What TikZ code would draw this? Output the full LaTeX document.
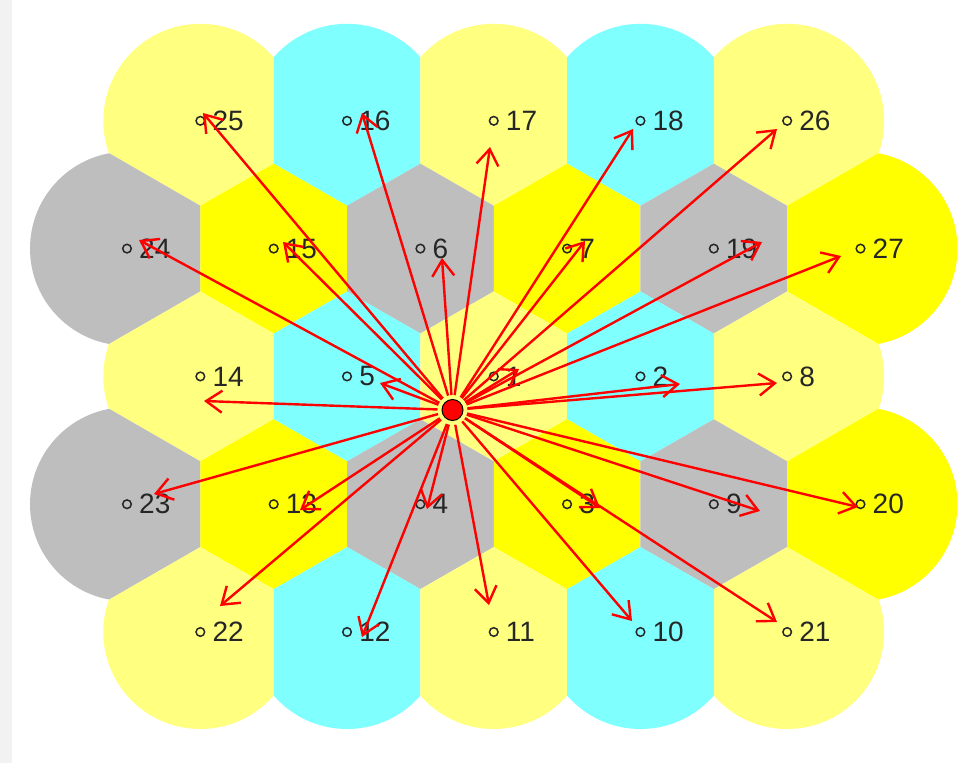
\documentclass[tikz,border=0pt]{standalone}
\usepackage{fontspec}
\setmainfont{Liberation Sans}
\usetikzlibrary{arrows.meta,positioning}

\definecolor{cellyel}{RGB}{255,255,128}
\definecolor{cellcyan}{RGB}{128,255,255}
\definecolor{cellgray}{RGB}{190,190,190}
\definecolor{cellgold}{RGB}{255,255,0}

\tikzset{
  site/.style={draw=black!85, line width=1.5pt},
  num/.style={inner sep=0pt, text=black!85, font=\fontsize{28}{30}\selectfont},
  ray/.style={red, line width=2.4pt, -{Straight Barb[length=16pt,width=22pt]}, shorten <=4pt},
  dot/.style={circle, fill=red, draw=black, line width=1pt, minimum size=21pt, inner sep=0pt}
}

% lattice in pixels
\def\xo{127}\def\yo{120.8}\def\hx{73.35}\def\ry{127.8}
\def\ha{42.85}\def\hb{84.95}\def\rad{97}

% one cell: column, row, colour
\newcommand{\hexcell}[3]{%
  \pgfmathsetmacro{\cx}{\xo+\hx*#1}
  \pgfmathsetmacro{\cy}{\yo+\ry*#2}
  \foreach \k/\vx/\vy in {0/\hx/\ha,1/0/\hb,2/-\hx/\ha,3/-\hx/-\ha,4/0/-\hb,5/\hx/-\ha}{
    \pgfmathsetmacro{\ea}{onmap(#1+round(2*cos(60*\k)),#2+round(1.1547*sin(60*\k)))}
    \pgfmathsetmacro{\eb}{onmap(#1+round(2*cos(60*\k+60)),#2+round(1.1547*sin(60*\k+60)))}
    \pgfmathsetmacro{\dirr}{\ea>0.5 ? 60*\k+90 : (\eb>0.5 ? 60*\k-30 : 60*\k+30)}
    \pgfmathsetmacro{\len}{(1-\ea*\eb)*150}
    \coordinate (v\k) at ({\cx+\vx+\len*cos(\dirr)},{\cy+\vy+\len*sin(\dirr)});
  }
  \begin{scope}
    \clip (\cx,\cy) circle (\rad pt);
    \fill[#3] (v0) -- (v1) -- (v2) -- (v3) -- (v4) -- (v5) -- cycle;
  \end{scope}
}

\begin{document}
\begin{tikzpicture}[x=1pt, y=-1pt,
  declare function={onmap(\i,\j)=(\i>-0.5)*(\i<10.5)*(\j>-0.5)*(\j<4.5);}]
  \useasboundingbox (0,0) rectangle (961,763);
  \fill[black!5] (0,0) rectangle (12,763);

  % cells
  \foreach \col/\row/\fc/\n in {1/0/cellyel/25, 3/0/cellcyan/16, 5/0/cellyel/17, 7/0/cellcyan/18, 9/0/cellyel/26,
      0/1/cellgray/24, 2/1/cellgold/15, 4/1/cellgray/6, 6/1/cellgold/7, 8/1/cellgray/19, 10/1/cellgold/27,
      1/2/cellyel/14, 3/2/cellcyan/5, 5/2/cellyel/1, 7/2/cellcyan/2, 9/2/cellyel/8,
      0/3/cellgray/23, 2/3/cellgold/13, 4/3/cellgray/4, 6/3/cellgold/3, 8/3/cellgray/9, 10/3/cellgold/20,
      1/4/cellyel/22, 3/4/cellcyan/12, 5/4/cellyel/11, 7/4/cellcyan/10, 9/4/cellyel/21}{
    \hexcell{\col}{\row}{\fc}
    \coordinate (s\n) at (\cx,\cy);
  }

  \foreach \n in {1,...,27}{
    \draw[site] (s\n) circle (4.3pt);
    \node[num, right=12pt of s\n] {\n};
  }

  % estimated positions
  \foreach \n/\tx/\ty in {25/203/113, 16/362/113, 17/490/147, 18/633/129, 26/777/129,
      24/139/240, 15/283/242, 6/442/258, 7/585/241, 19/762/242, 27/841/256,
      14/204/401, 5/380/383, 1/519/369, 2/680/384, 8/777/383,
      23/154/494, 13/300/510, 4/427/509, 3/600/508, 9/760/511, 20/858/507,
      22/220/606, 12/362/637, 11/489/605, 10/632/621, 21/777/622}{
    \coordinate (t\n) at (\tx,\ty);
  }

  \node[dot] (dot) at (452.5,410) {};
  \foreach \n in {1,...,27}
    \draw[ray] (dot) -- (t\n);
\end{tikzpicture}
\end{document}
